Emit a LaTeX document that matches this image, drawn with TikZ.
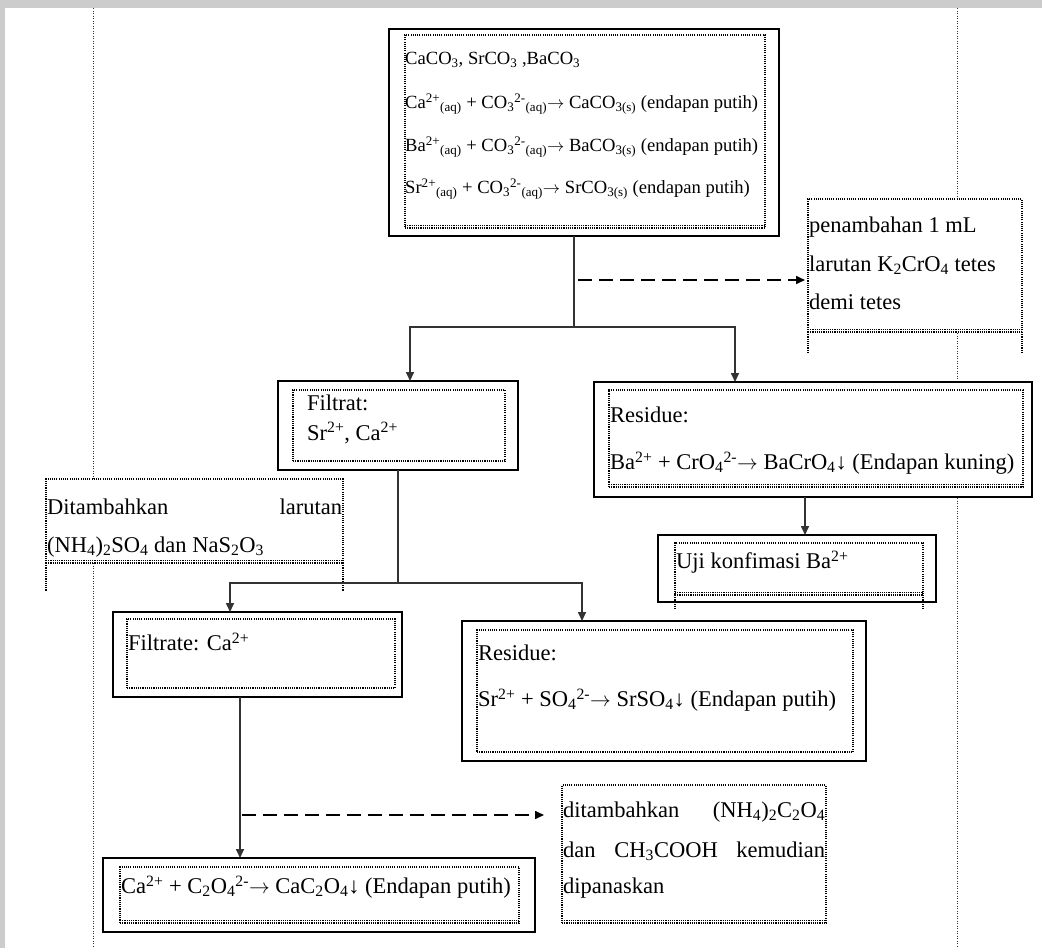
\documentclass[tikz,border=0pt]{standalone}
\usepackage{fontspec}
\setmainfont{Liberation Serif}
\usetikzlibrary{arrows.meta,fit,calc}
\newcommand{\chup}[1]{\textsuperscript{#1}}
\newcommand{\chdn}[1]{\textsubscript{#1}}
\newcommand{\rarr}{\ensuremath{\rightarrow}}
\tikzset{
  solidbox/.style={draw=black, line width=1.8pt, fill=white, inner sep=0pt, outer sep=0pt},
  dotbox/.style={draw=black, line width=1.1pt, dash pattern=on 1.1pt off 1.1pt, inner sep=0pt, outer sep=0pt},
  dotline/.style={draw=black, line width=1.1pt, dash pattern=on 1.1pt off 1.1pt},
  txt/.style={anchor=west, inner sep=0pt, font=\fontsize{22.5}{26}\selectfont},
  smalltxt/.style={anchor=west, inner sep=0pt, font=\fontsize{18.6}{22}\selectfont},
  conn/.style={draw=black!80, line width=1.6pt},
  arr/.style={conn, -{Triangle[length=9pt,width=8pt]}},
  dasharr/.style={draw=black, line width=1.6pt, dash pattern=on 14pt off 7pt, -{Triangle[length=9pt,width=8pt]}},
  marginline/.style={draw=black!80, line width=1pt, dash pattern=on 1pt off 1.5pt},
}
\begin{document}
\begin{tikzpicture}[x=1pt,y=-1pt]
\useasboundingbox (0,0) rectangle (1042,948);
% page background
\fill[gray!40] (0,0) rectangle (1042,948);
\fill[white] (5,8) rectangle (1042,948);
% page margins
\draw[marginline] (93,8) -- (93,948);
\draw[marginline] (957,8) -- (957,948);

% ---------- boxes ----------
% top box
\node[solidbox, fit={(389,29) (779,236)}] (top) {};
\node[dotbox, fit={(405,35) (765,228)}] (topin) {};
\draw[dotline] ($(topin.south west)+(0,-2.5)$) -- ($(topin.south east)+(0,-2.5)$);

% penambahan box
\node[dotbox, fill=white, fit={(808,199) (1022,332)}] (pen) {};
\draw[dotline] ($(pen.south west)+(0,-2.5)$) -- ($(pen.south east)+(0,-2.5)$);
\draw[dotline] (pen.south west) -- ++(0,20);
\draw[dotline] (pen.south east) -- ++(0,20);

% filtrat box
\node[solidbox, fit={(278,381) (518,470)}] (filt) {};
\node[dotbox, fit={(293,390) (505,461)}] (filtin) {};

% residue Ba box
\node[solidbox, fit={(594,382) (1032,497)}] (resB) {};
\node[dotbox, fit={(609,390) (1023,487)}] (resBin) {};
\draw[dotline] ($(resBin.south west)+(0,-2.5)$) -- ($(resBin.south east)+(0,-2.5)$);

% ditambahkan box (left)
\node[dotbox, fill=white, fit={(46,479) (343,563)}] (dit) {};
\draw[dotline] ($(dit.south west)+(0,-2.5)$) -- ($(dit.south east)+(0,-2.5)$);
\draw[dotline] (dit.south west) -- ++(0,28);
\draw[dotline] (dit.south east) -- ++(0,28);

% uji box
\node[solidbox, fit={(658,535) (936,602)}] (uji) {};
\node[dotbox, fit={(675,543) (923,595)}] (ujiin) {};
\draw[dotline] ($(ujiin.south west)+(0,-2.5)$) -- ($(ujiin.south east)+(0,-2.5)$);
\draw[dotline] (ujiin.south west) -- ++(0,14);
\draw[dotline] (ujiin.south east) -- ++(0,14);

% filtrate Ca box
\node[solidbox, fit={(113,612) (402,697)}] (fca) {};
\node[dotbox, fit={(127,619) (395,688)}] (fcain) {};

% residue Sr box
\node[solidbox, fit={(462,621) (866,761)}] (resS) {};
\node[dotbox, fit={(477,630) (853,752)}] (resSin) {};

% final box
\node[solidbox, fit={(103,858) (535,932)}] (fin) {};
\node[dotbox, fit={(120,867) (519,923)}] (finin) {};
\draw[dotline] ($(finin.south west)+(0,-2.5)$) -- ($(finin.south east)+(0,-2.5)$);

% ditambahkan box (bottom right)
\node[dotbox, fill=white, fit={(562,785) (826,923)}] (dit2) {};
\draw[dotline] ($(dit2.south west)+(0,-2.5)$) -- ($(dit2.south east)+(0,-2.5)$);

% ---------- connectors ----------
\coordinate (j1) at (574,327);
\draw[conn] (top.south -| j1) -- (j1);
\draw[arr] (j1) -| ($(filt.north)+(12,0)$);
\draw[arr] (j1) -| ($(resB.north)+(-78,0)$);
\coordinate (d1) at (578,280);
\draw[dasharr, shorten >=3pt] (d1) -- (d1 -| pen.west);

\coordinate (j2) at (398,583);
\draw[conn] (filt.south) -- (j2);
\draw[arr] (j2) -| ($(fca.north)+(-27.5,0)$);
\draw[arr] (j2) -| ($(resS.north)+(-82,0)$);

\coordinate (u) at (805,0);
\draw[arr] (resB.south -| u) -- (uji.north -| u);

\coordinate (v) at (240,0);
\draw[arr] (fca.south -| v) -- (fin.north -| v);
\coordinate (d2) at (242,815);
\draw[dasharr] (d2) -- ($(d2 -| dit2.west)+(-18,0)$);

% ---------- texts ----------
\node[smalltxt] (t1) at (405,60) {CaCO\chdn{3}, SrCO\chdn{3} ,BaCO\chdn{3}};
\node[smalltxt] (t2) at (405,104) {Ca\chup{2+}\chdn{(aq)} + CO\chdn{3}\chup{2-}\chdn{(aq)}\rarr{} CaCO\chdn{3(s)} (endapan putih)};
\node[smalltxt] (t3) at (405,147) {Ba\chup{2+}\chdn{(aq)} + CO\chdn{3}\chup{2-}\chdn{(aq)}\rarr{} BaCO\chdn{3(s)} (endapan putih)};
\node[smalltxt] (t4) at (405,189) {Sr\chup{2+}\chdn{(aq)} + CO\chdn{3}\chup{2-}\chdn{(aq)}\rarr{} SrCO\chdn{3(s)} (endapan putih)};

\node[txt] (p1) at (809,227) {penambahan 1 mL};
\node[txt] (p2) at (809,265) {larutan K\chdn{2}CrO\chdn{4} tetes};
\node[txt] (p3) at (809,302) {demi tetes};

\node[txt] (f1) at (307,403) {Filtrat:};
\node[txt] (f2) at (307,433) {Sr\chup{2+}, Ca\chup{2+}};

\node[txt] (r1) at (610,415) {Residue:};
\node[txt] (r2) at (610,463) {Ba\chup{2+} + CrO\chdn{4}\chup{2-}\rarr{} BaCrO\chdn{4}↓ (Endapan kuning)};

\node[txt] (a1) at (47,507) {\makebox[295pt][s]{Ditambahkan larutan}};
\node[txt] (a2) at (47,547) {(NH\chdn{4})\chdn{2}SO\chdn{4} dan NaS\chdn{2}O\chdn{3}};

\node[txt] (u1) at (676,562) {Uji konfimasi Ba\chup{2+}};

\node[txt] (c1) at (128,642) {Filtrate: Ca\chup{2+}};

\node[txt] (s1) at (478,653) {Residue:};
\node[txt] (s2) at (478,700) {Sr\chup{2+} + SO\chdn{4}\chup{2-}\rarr{} SrSO\chdn{4}↓ (Endapan putih)};

\node[txt] (e1) at (121,887) {Ca\chup{2+} + C\chdn{2}O\chdn{4}\chup{2-}\rarr{} CaC\chdn{2}O\chdn{4}↓ (Endapan putih)};

\node[txt] (b1) at (563,812) {\makebox[262pt][s]{ditambahkan (NH\chdn{4})\chdn{2}C\chdn{2}O\chdn{4}}};
\node[txt] (b2) at (563,851) {\makebox[262pt][s]{dan CH\chdn{3}COOH kemudian}};
\node[txt] (b3) at (563,888) {dipanaskan};
\end{tikzpicture}
\end{document}
